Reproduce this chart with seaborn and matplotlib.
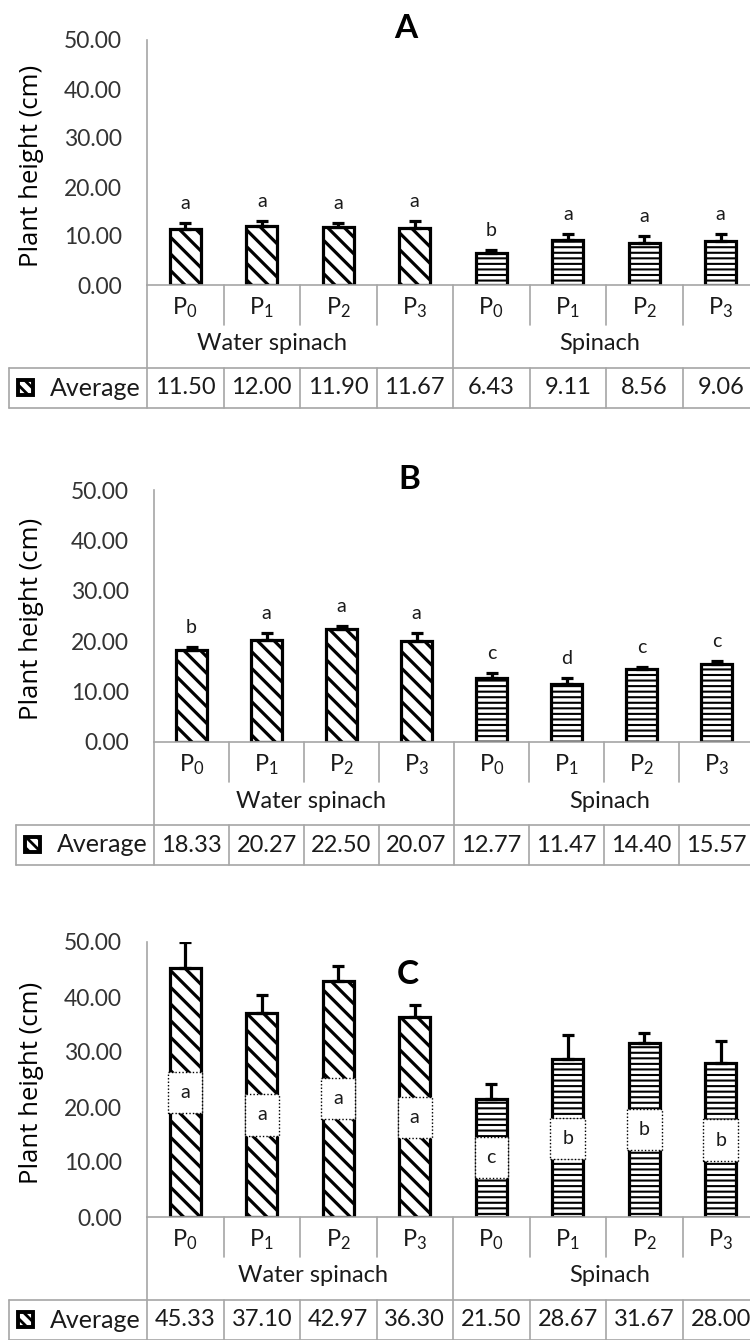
import numpy as np
import pandas as pd
import matplotlib
matplotlib.use("Agg")
import matplotlib.pyplot as plt
import seaborn as sns
from matplotlib.transforms import blended_transform_factory
from matplotlib.patches import Rectangle
from matplotlib.lines import Line2D

# ---------------- data ----------------
crops = ["Water spinach", "Spinach"]
treatments = ["P0", "P1", "P2", "P3"]
tick_labels = [r"P$_{0}$", r"P$_{1}$", r"P$_{2}$", r"P$_{3}$"] * 2
bar_keys = [f"{c}-{t}" for c in crops for t in treatments]

mean_A = [11.50, 12.00, 11.90, 11.67, 6.43, 9.11, 8.56, 9.06]
err_A = [1.2, 1.0, 0.8, 1.4, 0.8, 1.4, 1.4, 1.4]
letters_A = ["a", "a", "a", "a", "b", "a", "a", "a"]

mean_B = [18.33, 20.27, 22.50, 20.07, 12.77, 11.47, 14.40, 15.57]
err_B = [0.5, 1.3, 0.5, 1.5, 1.0, 1.3, 0.5, 0.6]
letters_B = ["b", "a", "a", "a", "c", "d", "c", "c"]

mean_C = [45.33, 37.10, 42.97, 36.30, 21.50, 28.67, 31.67, 28.00]
err_C = [4.6, 3.2, 2.6, 2.2, 2.6, 4.4, 1.8, 4.0]
letters_C = ["a", "a", "a", "a", "c", "b", "b", "b"]

y_ticks = [0, 10, 20, 30, 40, 50]

# ---------------- style ----------------
sns.set_theme(style="white")
plt.rcParams["font.family"] = ["Lato", "DejaVu Sans"]
plt.rcParams["mathtext.fontset"] = "custom"
plt.rcParams["mathtext.rm"] = "Lato"
plt.rcParams["mathtext.it"] = "Lato:italic"
plt.rcParams["mathtext.bf"] = "Lato:bold"
plt.rcParams["hatch.linewidth"] = 2.0
plt.rcParams["hatch.color"] = "black"

FW, FH = 750, 1340
fig = plt.figure(figsize=(FW / 100, FH / 100), dpi=100)
GRAY = "#A6A6A6"
TXT = "#1a1a1a"
TFS = 17  # table font size


def fx(px):
    return px / FW


def fy(py):
    return 1 - py / FH


layouts = {
    "A": dict(L=147, W=612, T=40, B=285, lb=9, ws_x=1.13, sp_x=5.42, title=(406, 28)),
    "B": dict(L=154, W=600, T=490, B=742, lb=16, ws_x=1.59, sp_x=5.57, title=(409, 480)),
    "C": dict(L=147, W=612, T=942, B=1217, lb=9, ws_x=1.67, sp_x=5.55, title=(408, 975)),
}

panels = [("A", mean_A, err_A, letters_A, "top"),
          ("B", mean_B, err_B, letters_B, "top"),
          ("C", mean_C, err_C, letters_C, "inside")]

for name, means, errs, letters, mode in panels:
    lay = layouts[name]
    L, W, T, B = lay["L"], lay["W"], lay["T"], lay["B"]
    ax = fig.add_axes([fx(L), fy(B), fx(W), (B - T) / FH])
    df = pd.DataFrame({"key": bar_keys, "height": means})
    sns.barplot(data=df, x="key", y="height", order=bar_keys, color="white",
                edgecolor="black", linewidth=2.3, width=0.41, errorbar=None,
                saturation=1, ax=ax)
    bars = ax.patches[:8]
    for i, p in enumerate(bars):
        p.set_facecolor("white")
        if i < 4:
            p.set_hatch("\\\\")
            if hasattr(p, "set_hatch_linewidth"):
                p.set_hatch_linewidth(2.3)
        else:
            p.set_hatch("---")
            if hasattr(p, "set_hatch_linewidth"):
                p.set_hatch_linewidth(1.5)
    xs = [p.get_x() + p.get_width() / 2 for p in bars]
    ax.errorbar(xs, means, yerr=[np.zeros(8), errs], fmt="none", ecolor="black",
                elinewidth=2.3, capsize=4, capthick=2.3, zorder=3)

    if mode == "top":
        for x, m, e, lt in zip(xs, means, errs, letters):
            ax.annotate(lt, (x, m + e), xytext=(0, 10), textcoords="offset points",
                        ha="center", va="baseline", fontsize=14, color=TXT)
    else:
        for x, m, lt in zip(xs, means, letters):
            ax.text(x, m / 2, lt, ha="center", va="center", fontsize=14, color=TXT,
                    zorder=4,
                    bbox=dict(boxstyle="square,pad=0.62", fc="white", ec="black",
                              lw=1, ls=(0, (1, 1.5))))

    ax.set_ylim(0, 50)
    ax.set_xlim(-0.5, 7.5)
    ax.set_yticks(y_ticks)
    ax.set_yticklabels([f"{v:.2f}" for v in y_ticks], fontsize=16.5, color="#333333")
    ax.tick_params(axis="y", length=0, pad=18)
    ax.set_xticks([])
    ax.set_xlabel("")
    ax.set_ylabel("")
    for s in ["top", "right"]:
        ax.spines[s].set_visible(False)
    for s in ["left", "bottom"]:
        ax.spines[s].set_color(GRAY)
        ax.spines[s].set_linewidth(1.2)

    fig.text(fx(32), fy((T + B) / 2 + 3), "Plant height (cm)", rotation=90,
             ha="center", va="center", fontsize=18.5,
             family=["Open Sans", "DejaVu Sans"], color="black")
    tx, ty = lay["title"]
    fig.text(fx(tx), fy(ty), name, ha="center", va="center", fontsize=24,
             fontweight="bold", color="black")

    # ---- data table under the axis ----
    tr = blended_transform_factory(ax.transData, fig.transFigure)
    y_p = B + 23
    y_sep = B + 40
    y_grp = B + 59
    y_top = B + 83
    y_bot = B + 123
    y_avg = B + 103

    for xv in [-0.5, 3.5]:
        ax.plot([xv, xv], [fy(B), fy(y_bot)], transform=tr, color=GRAY, lw=1.2,
                clip_on=False)
    for xv in [0.5, 1.5, 2.5, 4.5, 5.5, 6.5]:
        ax.plot([xv, xv], [fy(B), fy(y_sep)], transform=tr, color=GRAY, lw=1.2,
                clip_on=False)
        ax.plot([xv, xv], [fy(y_top), fy(y_bot)], transform=tr, color=GRAY, lw=1.2,
                clip_on=False)
    for yy in [y_top, y_bot]:
        fig.add_artist(Line2D([fx(lay["lb"]), 1.0], [fy(yy), fy(yy)],
                              color=GRAY, lw=1.2))
    fig.add_artist(Line2D([fx(lay["lb"]), fx(lay["lb"])], [fy(y_top), fy(y_bot)],
                          color=GRAY, lw=1.2))

    for i, lab in enumerate(tick_labels):
        ax.text(i, fy(y_p), lab, transform=tr, ha="center", va="center",
                fontsize=TFS, color=TXT, clip_on=False)
    ax.text(lay["ws_x"], fy(y_grp), crops[0], transform=tr, ha="center",
            va="center", fontsize=TFS, color=TXT, clip_on=False)
    ax.text(lay["sp_x"], fy(y_grp), crops[1], transform=tr, ha="center",
            va="center", fontsize=TFS, color=TXT, clip_on=False)
    for i, m in enumerate(means):
        ax.text(i, fy(y_avg), f"{m:.2f}", transform=tr, ha="center", va="center",
                fontsize=TFS, color=TXT, clip_on=False)

    # legend key + "Average"
    kx = lay["lb"] + 9
    fig.add_artist(Rectangle((fx(kx), fy(y_avg + 7)), fx(15), 15 / FH,
                             transform=fig.transFigure, facecolor="white",
                             edgecolor="black", lw=2.8, hatch="\\\\\\"))
    fig.text(fx(kx + 32), fy(y_avg), "Average", ha="left", va="center",
             fontsize=18, color=TXT)

fig.savefig("out.png", dpi=100)
